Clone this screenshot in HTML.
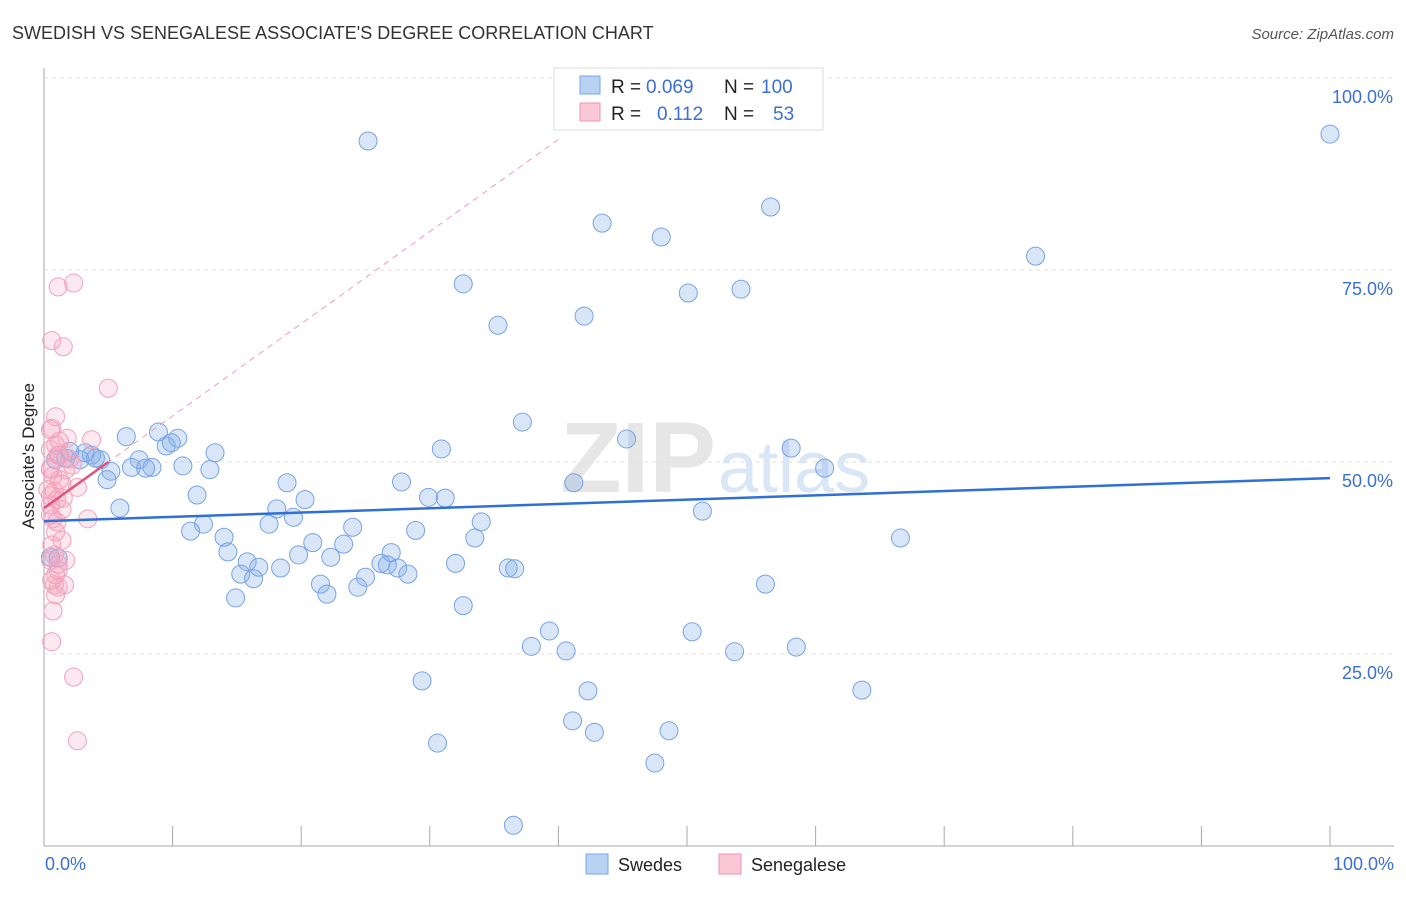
<!DOCTYPE html>
<html><head><meta charset="utf-8"><style>
body{margin:0;background:#fff;font-family:"Liberation Sans",sans-serif}
svg text{font-family:"Liberation Sans",sans-serif}
</style></head><body>
<svg id="c" width="1406" height="892" xmlns="http://www.w3.org/2000/svg">
<text x="12" y="39" font-size="18" fill="#333">SWEDISH VS SENEGALESE ASSOCIATE'S DEGREE CORRELATION CHART</text>
<text x="1394" y="39" font-size="15" fill="#555" font-style="italic" text-anchor="end">Source: ZipAtlas.com</text>
<text x="716" y="492" font-size="100" fill="#e6e6e6" text-anchor="end" font-family="Liberation Serif" font-weight="bold">ZIP</text>
<text x="718" y="492" font-size="72" fill="#d9e6f6">atlas</text>
<g id="grid"></g>
<g id="pts"></g>
<g id="lines"></g>
<text transform="translate(34,456) rotate(-90)" font-size="17" fill="#222" text-anchor="middle">Associate's Degree</text>
<text x="45" y="870" font-size="18" fill="#3b6fd4">0.0%</text>
<text x="1394" y="870" font-size="18" fill="#3b6fd4" text-anchor="end">100.0%</text>
<g>
<rect x="554" y="68" width="269" height="62" fill="#fff" stroke="#ddd"/>
<rect x="580" y="76" width="20" height="18" fill="#b8d2f4" stroke="#7aa4e6"/>
<rect x="580" y="103" width="20" height="18" fill="#f9c7d6" stroke="#f096b1"/>
<text x="611" y="93" font-size="19" fill="#222">R =</text>
<text x="646" y="93" font-size="19" fill="#3b6fd4">0.069</text>
<text x="724" y="93" font-size="19" fill="#222">N =</text>
<text x="761" y="93" font-size="19" fill="#3b6fd4">100</text>
<text x="611" y="120" font-size="19" fill="#222">R =</text>
<text x="657" y="120" font-size="19" fill="#3b6fd4">0.112</text>
<text x="724" y="120" font-size="19" fill="#222">N =</text>
<text x="773" y="120" font-size="19" fill="#3b6fd4">53</text>
</g>
<g>
<rect x="586" y="854" width="22" height="20" fill="#b8d2f4" stroke="#7aa4e6"/>
<text x="618" y="871" font-size="18" fill="#222">Swedes</text>
<rect x="719" y="854" width="22" height="20" fill="#f9c7d6" stroke="#f096b1"/>
<text x="751" y="871" font-size="18" fill="#222">Senegalese</text>
</g>
</svg>
<script>
const blueX=[25.2,43.4,48.0,56.5,100,77.1,32.6,50.1,54.2,35.3,42.0,37.2,45.3,58.1,60.7,30.9,13.3,10.4,8.9,6.4,9.5,9.9,7.4,6.8,8.4,7.9,10.8,12.9,5.2,4.9,5.9,4.4,4.0,3.7,3.2,2.8,1.7,2.0,27.8,18.9,20.3,11.9,29.9,31.2,41.2,51.2,18.1,19.4,17.5,12.4,11.4,14.0,34.0,28.9,24.0,20.9,23.3,33.5,66.6,14.3,19.8,22.3,27.0,15.8,16.7,18.4,15.3,16.3,32.0,26.2,26.7,27.5,28.3,25.0,36.1,36.6,21.5,24.4,22.0,14.9,32.6,56.1,39.3,50.4,37.9,40.6,53.7,58.5,63.6,29.4,42.3,41.1,42.8,48.6,30.6,47.5,36.5,0.5,1.1,0.9];
const blueY=[91.8,81.1,79.3,83.2,92.7,76.8,73.2,72.0,72.5,67.8,69.0,55.2,53.0,51.8,49.2,51.7,51.2,53.1,53.9,53.3,52.1,52.5,50.3,49.3,49.3,49.2,49.5,49.0,48.8,47.7,44.0,50.3,50.5,50.9,51.2,50.3,50.5,51.4,47.4,47.3,45.1,45.7,45.4,45.3,47.3,43.6,43.9,42.8,41.9,41.9,41.0,40.2,42.2,41.1,41.5,39.5,39.3,40.1,40.1,38.3,37.9,37.6,38.2,37.0,36.3,36.2,35.4,34.8,36.8,36.8,36.6,36.2,35.4,35.0,36.2,36.1,34.1,33.7,32.8,32.3,31.3,34.1,28.0,27.9,26.0,25.4,25.3,25.9,20.3,21.5,20.2,16.3,14.8,15.0,13.4,10.8,2.7,37.6,37.5,50.3];
const pinkX=[1.1,2.3,0.6,1.5,5.0,0.9,0.6,1.8,3.7,1.2,0.5,1.1,2.0,0.5,0.7,1.4,2.6,0.8,0.5,1.5,0.5,1.0,3.4,0.6,0.8,1.1,0.9,0.8,1.1,1.6,0.7,0.6,2.3,2.6,0.5,0.9,1.4,0.9,0.5,0.6,1.2,1.7,2.2,0.5,1.0,1.4,0.7,1.1,1.7,0.5,0.9,1.2,0.3];
const pinkY=[72.8,73.3,65.8,65.0,59.6,55.9,54.4,53.1,52.9,52.7,51.6,50.9,50.4,49.2,48.2,47.1,46.7,46.2,45.6,45.3,44.4,42.2,42.6,39.2,37.9,36.7,35.3,34.0,33.7,34.0,30.6,26.6,22.0,13.7,49.0,52.2,39.8,40.9,43.1,34.6,50.9,49.0,49.6,54.2,45.1,43.8,42.6,35.9,37.2,37.2,32.7,47.7,46.4];
const yTicks=[25,50,75,100];
const yTickLabels=["25.0%","50.0%","75.0%","100.0%"];
const xTicks=[10,20,30,40,50,60,70,80,90,100];
const blueTrend=[42.3,47.9];
const pinkTrend=[44.0,50.0];
const pinkTrendEndX=5;

const NS="http://www.w3.org/2000/svg";
const sx=v=>44+v*12.86, sy=v=>846-v*7.68;
function mk(tag,at,parent){const e=document.createElementNS(NS,tag);for(const k in at)e.setAttribute(k,at[k]);parent.appendChild(e);return e;}
const grid=document.getElementById('grid'),pts=document.getElementById('pts'),lines=document.getElementById('lines');
yTicks.forEach((t,i)=>{
 const l=mk('line',{x1:44,x2:1394,y1:sy(t),y2:sy(t),stroke:'#e2e2e2','stroke-dasharray':'4,4'},grid);
 
 
 const tx=mk('text',{x:1393,y:sy(t)+25,'font-size':18,fill:'#3b6fd4','text-anchor':'end'},grid);
 tx.textContent=yTickLabels[i];
 
 
});
const ya=mk('line',{x1:44,x2:44,y1:68,y2:846,stroke:'#aaa'},grid);


const xa=mk('line',{x1:44,x2:1394,y1:846,y2:846,stroke:'#aaa'},grid);


xTicks.forEach(t=>{
 const l=mk('line',{x1:sx(t),x2:sx(t),y1:826,y2:846,stroke:'#aaa'},grid);
 
 
});
blueX.forEach((x,i)=>{
 const c=mk('circle',{cx:sx(x),cy:sy(blueY[i]),r:9,fill:'rgba(130,172,232,0.3)',stroke:'#77a3e4','stroke-width':1},pts);
 
 
});
pinkX.forEach((x,i)=>{
 const c=mk('circle',{cx:sx(x),cy:sy(pinkY[i]),r:9,fill:'rgba(245,165,190,0.25)',stroke:'#f2a2b9','stroke-width':1},pts);
 
 
});
const slope=(pinkTrend[1]-pinkTrend[0])/pinkTrendEndX;
const dx=40;
const d=mk('line',{x1:sx(0),y1:sy(pinkTrend[0]),x2:sx(dx),y2:sy(pinkTrend[0]+slope*dx),stroke:'#eaa0b6','stroke-dasharray':'6,5','stroke-width':1},lines);


const bt=mk('line',{x1:sx(0),y1:sy(blueTrend[0]),x2:sx(100),y2:sy(blueTrend[1]),stroke:'#2f6fd6','stroke-width':2.5},lines);


const pt=mk('line',{x1:sx(0),y1:sy(pinkTrend[0]),x2:sx(pinkTrendEndX),y2:sy(pinkTrend[1]),stroke:'#e0527d','stroke-width':2.5},lines);


</script>
</body></html>
